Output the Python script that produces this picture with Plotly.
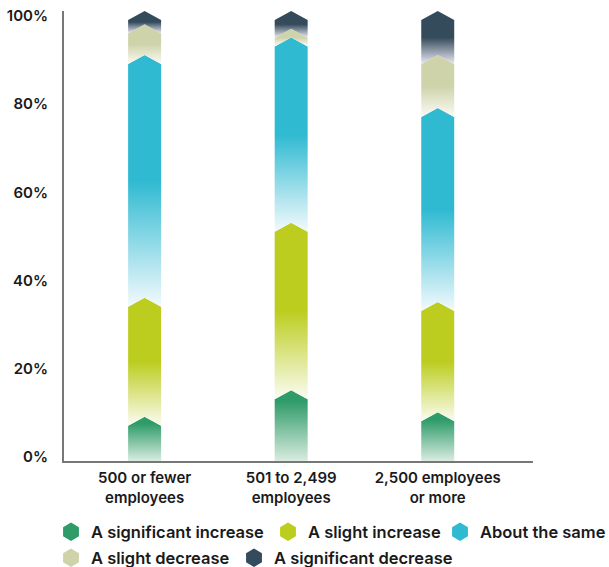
import plotly.graph_objects as go

categories = ["500 or fewer<br>employees", "501 to 2,499<br>employees", "2,500 employees<br>or more"]
series_names = ["A significant increase", "A slight increase", "About the same",
                "A slight decrease", "A significant decrease"]
sig_increase = [8, 14, 9]
slight_increase = [27, 38, 25]
about_same = [55, 42, 44]
slight_decrease = [7, 2, 12]
sig_decrease = [3, 4, 10]
y_ticks = [0, 20, 40, 60, 80, 100]

colors = ["#2e9b69", "#bccd1f", "#2fbad2", "#cfd3aa", "#344b5c"]
fade_to = ["#d9ece0", "#fbfcf2", "#f3fafd", "#fbfbf5", "#ece9f3"]
stops = [0.85, 0.5, 0.5, 0.5, 0.5]

series = [sig_increase, slight_increase, about_same, slight_decrease, sig_decrease]

half_w = 0.1125
tip = 2.04

fig = go.Figure()

for j, cat in enumerate(categories):
    base = 0
    for i, vals in enumerate(series):
        top = base + vals[j]
        c = j
        if i == 0:
            xs = [c - half_w, c + half_w]
            ys = [base, base]
        else:
            xs = [c - half_w, c, c + half_w]
            ys = [base, base + tip, base]
        xs += [c + half_w, c, c - half_w, c - half_w]
        ys += [top, top + tip, top, base]
        fig.add_trace(go.Scatter(
            x=xs, y=ys, mode="lines", fill="toself",
            line=dict(width=0),
            fillgradient=dict(type="vertical",
                              colorscale=[[0, fade_to[i]], [stops[i], colors[i]], [1, colors[i]]]),
            showlegend=False, hoverinfo="skip"))
        base = top

# one legend per entry so that the two-row layout of the reference is kept
legend_ids = ["legend", "legend2", "legend3", "legend4", "legend5"]
for i, name in enumerate(series_names):
    fig.add_trace(go.Scatter(
        x=[None], y=[None], mode="markers", name=name,
        marker=dict(symbol="hexagon", size=18, color=colors[i],
                    line=dict(color=colors[i], width=2)),
        legend=legend_ids[i]))

font_family = "Inter"
text_color = "#1a1a1a"
legend_common = dict(orientation="h", xref="container", yref="container",
                     xanchor="left", yanchor="middle",
                     font=dict(family=font_family, size=16.5, color=text_color, weight=600),
                     bgcolor="rgba(0,0,0,0)")

row1_y = 1 - 532 / 567
row2_y = 1 - 558 / 567
legend_pos = [(51, row1_y), (268, row1_y), (440, row1_y), (51, row2_y), (234, row2_y)]
legend_layout = {}
for lid, (px, py) in zip(legend_ids, legend_pos):
    legend_layout[lid] = dict(x=px / 609, y=py, **legend_common)

fig.update_layout(
    width=609, height=567,
    margin=dict(l=64, r=76, t=11, b=106),
    plot_bgcolor="white", paper_bgcolor="white",
    font=dict(family=font_family, color=text_color),
    xaxis=dict(range=[-0.55, 2.65], tickvals=[0, 1, 2], ticktext=categories,
               showgrid=False, zeroline=False, showline=True, linecolor="#777777", linewidth=2,
               tickfont=dict(family=font_family, size=15, color=text_color, weight=600),
               ticks="", automargin=False, ticklabelstandoff=2),
    yaxis=dict(range=[0, 102.04], tickvals=y_ticks, ticktext=[f"{v}%" for v in y_ticks],
               showgrid=False, zeroline=False, showline=True, linecolor="#777777", linewidth=2,
               tickfont=dict(family=font_family, size=15, color=text_color, weight=600),
               ticks="", ticklabelstandoff=11, ticklabelshift=-4, automargin=False),
    **legend_layout,
)

fig.write_html("out.html", config={"displayModeBar": False},
               post_script="document.body.style.margin='0';")
